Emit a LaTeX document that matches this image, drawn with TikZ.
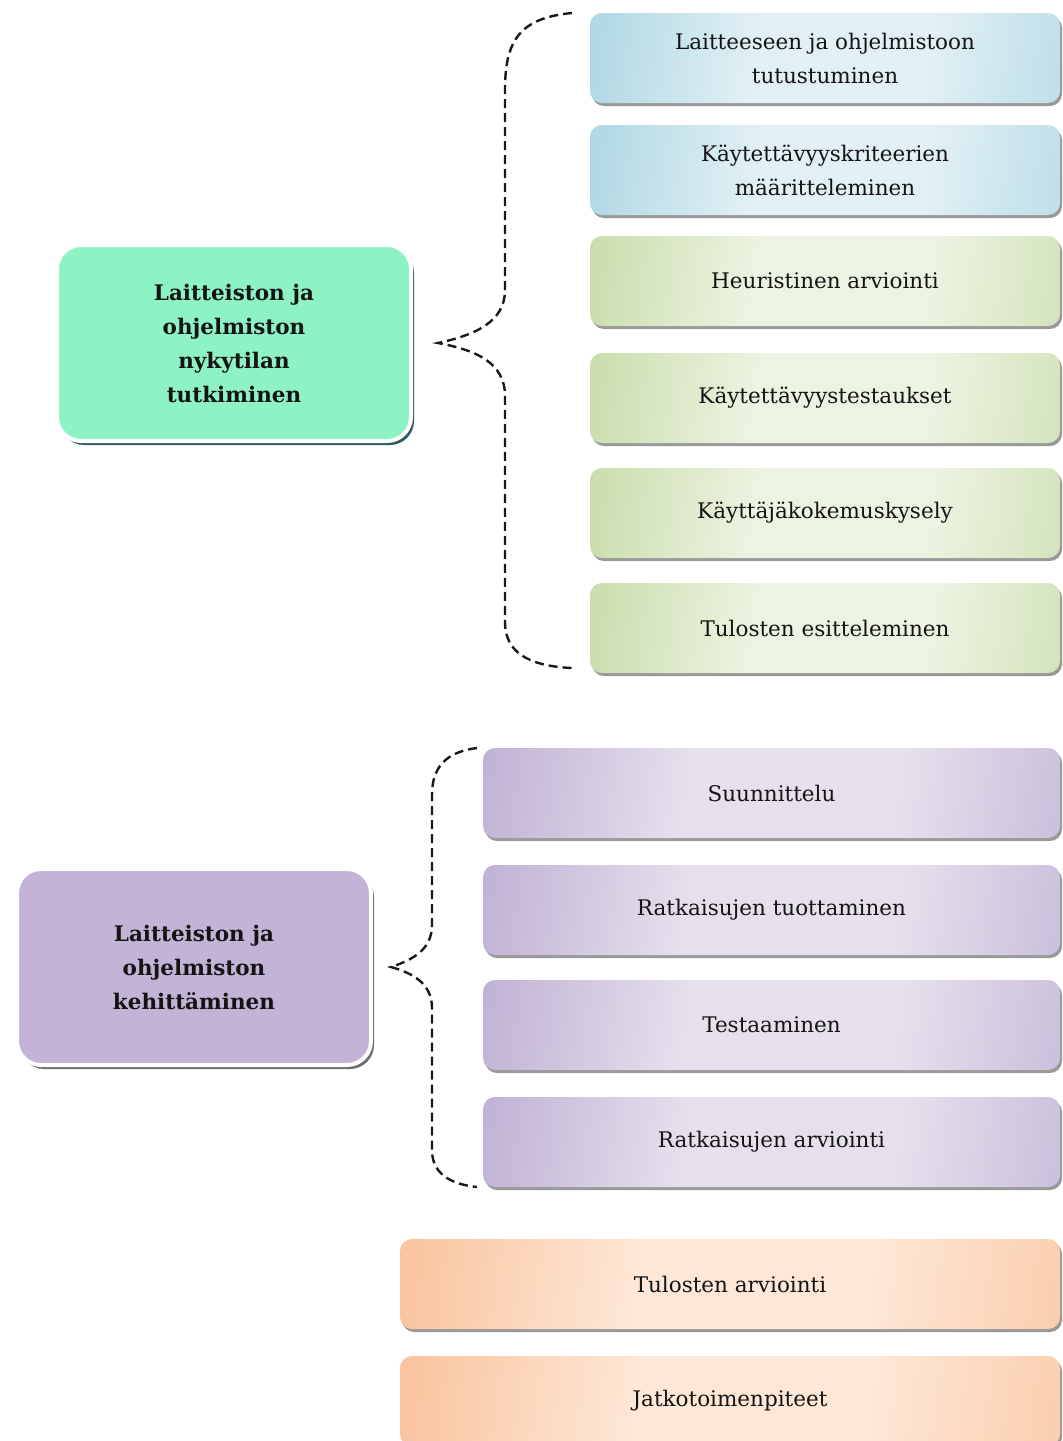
\documentclass[tikz,border=0pt]{standalone}
\usepackage{fontspec}
\setmainfont{DejaVu Serif}
\usetikzlibrary{shadows}

% glossy fills for the step boxes
\definecolor{bluedk}{HTML}{98CCDB}
\definecolor{bluelt}{HTML}{E2F0F5}
\definecolor{greendk}{HTML}{B9D394}
\definecolor{greenlt}{HTML}{EDF3E2}
\definecolor{purpdk}{HTML}{AF9DC9}
\definecolor{purplt}{HTML}{E6E0ED}
\definecolor{orangedk}{HTML}{F7B383}
\definecolor{orangelt}{HTML}{FDE7D6}
\definecolor{mint}{HTML}{8DF2C4}
\definecolor{mintshadow}{HTML}{2C5B60}
\definecolor{lilac}{HTML}{C3B4D7}
\definecolor{lilacshadow}{HTML}{6E6E72}
\definecolor{ink}{HTML}{141414}

\pgfdeclarehorizontalshading{glossblue}{100bp}{color(0bp)=(bluedk); color(20bp)=(bluedk!75!bluelt); color(42bp)=(bluelt); color(62bp)=(bluelt); color(84bp)=(bluedk!65!bluelt); color(100bp)=(bluedk)}
\pgfdeclarehorizontalshading{glossgreen}{100bp}{color(0bp)=(greendk); color(20bp)=(greendk!75!greenlt); color(42bp)=(greenlt); color(62bp)=(greenlt); color(84bp)=(greendk!65!greenlt); color(100bp)=(greendk)}
\pgfdeclarehorizontalshading{glosspurple}{100bp}{color(0bp)=(purpdk); color(20bp)=(purpdk!75!purplt); color(42bp)=(purplt); color(62bp)=(purplt); color(84bp)=(purpdk!65!purplt); color(100bp)=(purpdk)}
\pgfdeclarehorizontalshading{glossorange}{100bp}{color(0bp)=(orangedk); color(20bp)=(orangedk!75!orangelt); color(42bp)=(orangelt); color(62bp)=(orangelt); color(84bp)=(orangedk!65!orangelt); color(100bp)=(orangedk)}

\tikzset{
  stepbox/.style={rounded corners=12pt, minimum height=90pt, align=center,
    text=ink, font=\fontsize{21.5}{34}\selectfont, shading angle=-8,
    drop shadow={shadow xshift=2pt, shadow yshift=-3pt, fill=black, opacity=0.4}},
  bluebox/.style={stepbox, shading=glossblue, minimum width=470pt},
  greenbox/.style={stepbox, shading=glossgreen, minimum width=470pt},
  purplebox/.style={stepbox, shading=glosspurple, minimum width=577pt},
  orangebox/.style={stepbox, shading=glossorange, minimum width=660pt},
  phasebox/.style={rounded corners=24pt, draw=white, line width=4pt, align=center,
    text=ink, font=\bfseries\fontsize{21.5}{34}\selectfont,
    minimum width=354pt, minimum height=196pt},
  bracket/.style={draw=black!90, line width=2.4pt, dash pattern=on 9pt off 5pt}
}

\begin{document}
\begin{tikzpicture}[x=1pt, y=-1pt]
\useasboundingbox (0,0) rectangle (1063,1441);
\fill[white] (0,0) rectangle (1063,1441);

% phase 1: current state study
\node[phasebox, fill=mint, drop shadow={shadow xshift=3pt, shadow yshift=-4pt, fill=mintshadow, opacity=1}]
  (study) at (234,343) {Laitteiston ja\\ohjelmiston\\nykytilan\\tutkiminen};

\node[bluebox]  (s1) at (825,58)  {Laitteeseen ja ohjelmistoon\\tutustuminen};
\node[bluebox]  (s2) at (825,170) {Käytettävyyskriteerien\\määritteleminen};
\node[greenbox] (s3) at (825,281) {Heuristinen arviointi};
\node[greenbox] (s4) at (825,398) {Käytettävyystestaukset};
\node[greenbox] (s5) at (825,513) {Käyttäjäkokemuskysely};
\node[greenbox] (s6) at (825,628) {Tulosten esitteleminen};

% phase 2: development
\node[phasebox, fill=lilac, drop shadow={shadow xshift=3pt, shadow yshift=-4pt, fill=lilacshadow, opacity=1}]
  (develop) at (194,967) {Laitteiston ja\\ohjelmiston\\kehittäminen};

\node[purplebox] (d1) at (771.5,793)  {Suunnittelu};
\node[purplebox] (d2) at (771.5,910)  {Ratkaisujen tuottaminen};
\node[purplebox] (d3) at (771.5,1025) {Testaaminen};
\node[purplebox] (d4) at (771.5,1142) {Ratkaisujen arviointi};

% closing steps
\node[orangebox] (e1) at (730,1284) {Tulosten arviointi};
\node[orangebox] (e2) at (730,1401) {Jatkotoimenpiteet};

% curly brackets grouping the steps
\coordinate (tip1) at ([xshift=25pt]study.east);
\coordinate (top1) at (572,13);
\coordinate (bot1) at (572,668);
\draw[bracket] (top1) .. controls (520,18) and (505,40) .. (505,90)
  -- (505,290) .. controls (505,322) and (475,335) .. (tip1)
  .. controls (475,350) and (505,362) .. (505,396)
  -- (505,622) .. controls (505,650) and (525,666) .. (bot1);

\coordinate (tip2) at ([xshift=18pt]develop.east);
\coordinate (top2) at (477,748);
\coordinate (bot2) at (477,1187);
\draw[bracket] (top2) .. controls (445,752) and (432,768) .. (432,795)
  -- (432,925) .. controls (432,950) and (412,960) .. (tip2)
  .. controls (412,973) and (432,983) .. (432,1008)
  -- (432,1150) .. controls (432,1172) and (448,1184) .. (bot2);
\end{tikzpicture}
\end{document}
